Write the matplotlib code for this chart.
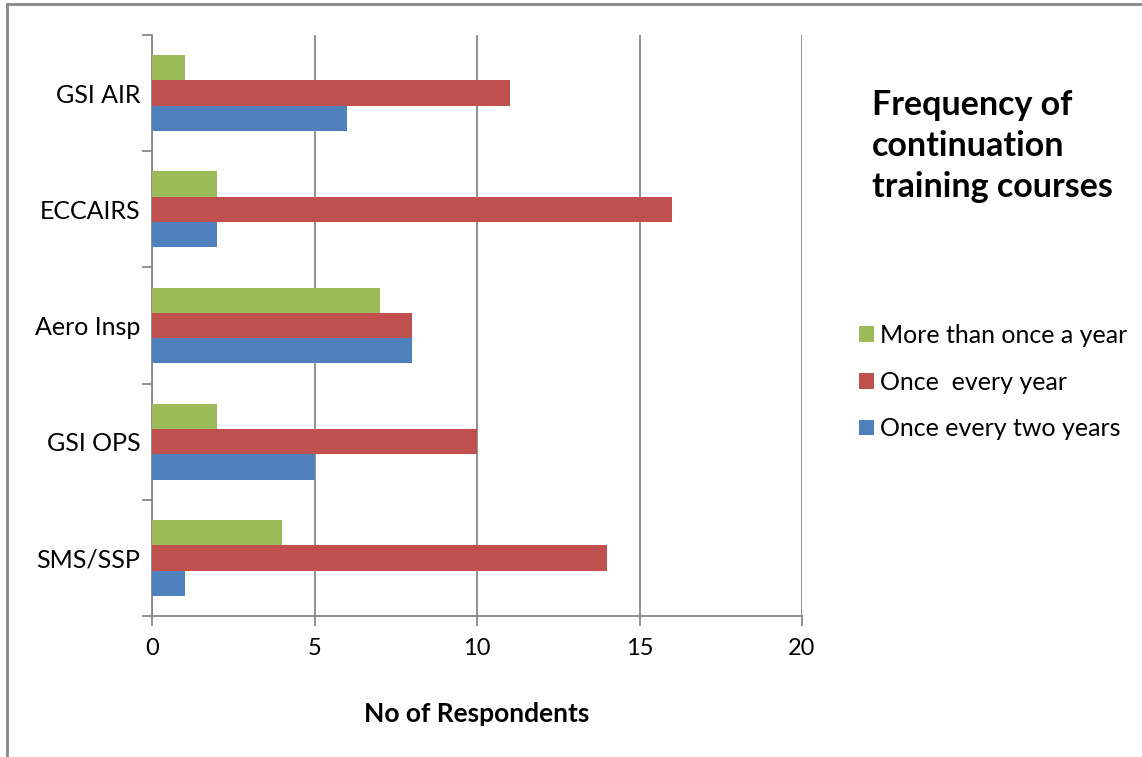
import matplotlib.pyplot as plt
import numpy as np
from matplotlib.lines import Line2D

# categories listed from bottom to top
categories = ["SMS/SSP", "GSI OPS", "Aero Insp", "ECCAIRS", "GSI AIR"]
two_years = [1, 5, 8, 2, 6]
every_year = [14, 10, 8, 16, 11]
more_than_once = [4, 2, 7, 2, 1]

series_names = ["Once every two years", "Once  every year", "More than once a year"]
colors = ["#4F81BD", "#C0504D", "#9BBB59"]
grid_col = "#888888"

plt.rcParams["font.family"] = ["Lato", "DejaVu Sans"]

W, H = 1142, 757
fig = plt.figure(figsize=(W / 100, H / 100), dpi=100)
ax = fig.add_axes([152 / W, 1 - 616 / H, 650 / W, 581 / H])

y = np.arange(len(categories))
h = 0.217
handles = []
for k, (vals, name, c) in enumerate(zip([two_years, every_year, more_than_once], series_names, colors)):
    b = ax.barh(y + (k - 1) * h, vals, height=h, color=c, label=name, zorder=3)
    handles.append(b)

ax.set_xlim(0, 20)
ax.set_ylim(-0.5, len(categories) - 0.5)
ax.set_xticks([0, 5, 10, 15, 20])
ax.set_yticks(y)
ax.set_yticklabels(categories)
ax.set_yticks(np.arange(-0.5, len(categories), 1), minor=True)
ax.tick_params(axis="y", which="major", length=0, pad=8.5, labelsize=18)
ax.tick_params(axis="y", which="minor", length=7, color=grid_col, width=1.3)
ax.tick_params(axis="x", length=7, color=grid_col, width=1.3, pad=9, labelsize=17)
ax.xaxis.grid(True, color=grid_col, linewidth=1.3, zorder=0)
for s in ["top", "right"]:
    ax.spines[s].set_visible(False)
for s in ["left", "bottom"]:
    ax.spines[s].set_color(grid_col)
    ax.spines[s].set_linewidth(1.3)
ax.set_xlabel("No of Respondents", fontsize=19, fontweight="bold", va="center")
ax.xaxis.set_label_coords(0.5, (616 - 714) / 581)

# chart frame (left and top edges)
fig.add_artist(Line2D([6.5 / W, 6.5 / W], [0, 1 - 3.5 / H], transform=fig.transFigure,
                      color=grid_col, linewidth=2))
fig.add_artist(Line2D([6.5 / W, 1], [1 - 3.5 / H, 1 - 3.5 / H], transform=fig.transFigure,
                      color=grid_col, linewidth=2))

for line, base in zip(["Frequency of", "continuation", "training courses"], [115, 156, 197]):
    fig.text(872 / W, 1 - base / H, line, fontsize=24.5, fontweight="bold", va="baseline", ha="left")

ax.legend(handles[::-1], series_names[::-1], loc="center left", bbox_to_anchor=(859 / W, 1 - 382 / H),
          bbox_transform=fig.transFigure, frameon=False, fontsize=18, handlelength=0.6, handleheight=0.6,
          handletextpad=0.25, labelspacing=0.95, borderaxespad=0, borderpad=0)

fig.savefig("out.png", dpi=100)
